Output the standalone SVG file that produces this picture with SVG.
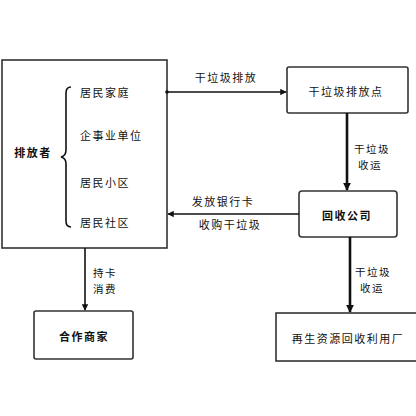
<svg xmlns="http://www.w3.org/2000/svg" width="416" height="416" viewBox="0 0 416 416">
<defs>
<style>
.box{fill:#fff;stroke:#333;stroke-width:1.6}
.t{font-family:"Noto Sans CJK SC","Liberation Sans",sans-serif;font-size:11px;fill:#111;letter-spacing:1.5px}
.s{font-size:10.5px}
.b{font-weight:bold}
.c{text-anchor:middle}
.ln{stroke:#111;fill:none;stroke-width:1.6}
.thick{stroke-width:2.6}
</style>
<marker id="ah" viewBox="0 0 10 10" refX="9" refY="5" markerWidth="4" markerHeight="4" orient="auto"><path d="M0,0 L10,5 L0,10 z" fill="#111"/></marker>
<marker id="ahs" viewBox="0 0 10 10" refX="9" refY="5" markerWidth="3" markerHeight="3" orient="auto"><path d="M0,0 L10,5 L0,10 z" fill="#111"/></marker>
</defs>
<rect width="416" height="416" fill="#fff"/>
<g id="emitter">
<rect class="box" x="2" y="60" width="165" height="188"/>
<text class="t b c" x="33" y="157">排放者</text>
<path class="ln" stroke-width="1.2" d="M71,87 Q66,87 66,93 L66,150 Q66,156 61,157 Q66,158 66,164 L66,221 Q66,227 71,227"/>
<text class="t" x="80" y="97">居民家庭</text>
<text class="t" x="80" y="140">企事业单位</text>
<text class="t" x="80" y="187">居民小区</text>
<text class="t" x="80" y="227">居民社区</text>
</g>
<g id="point">
<rect class="box" x="287" y="67" width="121" height="46" rx="2"/>
<text class="t c" x="346" y="96">干垃圾排放点</text>
</g>
<g id="company">
<rect class="box" x="299" y="191" width="98" height="46" rx="3"/>
<text class="t b c" x="347" y="220">回收公司</text>
</g>
<g id="merchant">
<rect class="box" x="34" y="311" width="99" height="48" rx="2"/>
<text class="t b c" x="84" y="341">合作商家</text>
</g>
<g id="factory">
<rect class="box" x="276" y="313" width="150" height="48"/>
<text class="t c" x="348" y="343">再生资源回收利用厂</text>
</g>
<g id="connectors">
<circle cx="167" cy="92" r="1.8" fill="#111"/>
<line class="ln" x1="167" y1="92" x2="286" y2="92" marker-end="url(#ah)"/>
<text class="t c" x="226" y="82">干垃圾排放</text>
<line class="ln thick" x1="347" y1="113" x2="347" y2="190" marker-end="url(#ahs)"/>
<text class="t s c" x="372" y="153">干垃圾</text>
<text class="t s c" x="370" y="169">收运</text>
<line class="ln" x1="299" y1="214" x2="168" y2="214" marker-end="url(#ah)"/>
<text class="t c" x="223" y="206">发放银行卡</text>
<text class="t c" x="230" y="229">收购干垃圾</text>
<line class="ln" x1="85" y1="248" x2="85" y2="310" marker-end="url(#ah)"/>
<text class="t s c" x="105" y="277">持卡</text>
<text class="t s c" x="105" y="293">消费</text>
<line class="ln thick" x1="350" y1="237" x2="350" y2="312" marker-end="url(#ahs)"/>
<text class="t s c" x="373" y="276">干垃圾</text>
<text class="t s c" x="372" y="292">收运</text>
</g>
</svg>
